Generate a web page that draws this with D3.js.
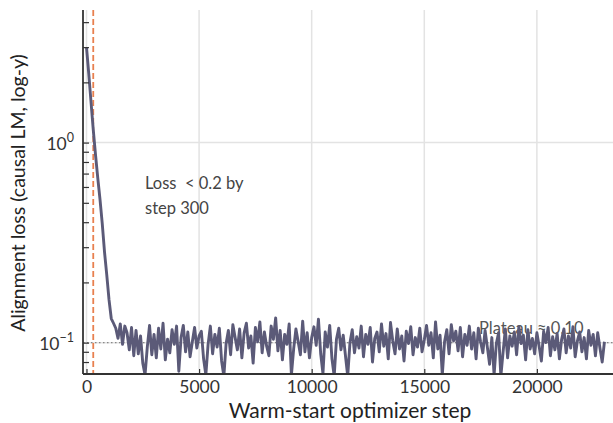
<!DOCTYPE html>
<html>
<head>
<meta charset="utf-8">
<script src="https://cdn.jsdelivr.net/npm/d3@7"></script>
<style>
  body { margin: 0; background: #fff; }
  text { font-family: Lato, "Open Sans", sans-serif; }
</style>
</head>
<body>
<div id="viz"></div>
<script>
const width = 613;
const height = 423;
const plot = {left: 83, right: 613, top: 10, bottom: 374};
const lineColor = '#5b5a78';
const markColor = '#e8804f';

// data, sampled every 100 optimizer steps starting at step 0
const stepInterval = 100;
const loss = [
  3.0, 2.21, 1.6, 1.16, 0.87, 0.667, 0.52, 0.393, 0.284, 0.218, 0.164, 0.132, 0.125,
  0.118, 0.105, 0.124, 0.098, 0.121, 0.112, 0.092, 0.119,
  0.086, 0.115, 0.088, 0.108, 0.079, 0.069, 0.095, 0.122, 0.087, 0.110,
  0.084, 0.118, 0.093, 0.125, 0.082, 0.104, 0.089, 0.116, 0.098, 0.121,
  0.072, 0.106, 0.122, 0.090, 0.113, 0.085, 0.101, 0.119, 0.094, 0.108,
  0.114, 0.083, 0.069, 0.098, 0.121, 0.088, 0.110, 0.095, 0.118, 0.081,
  0.068, 0.099, 0.115, 0.087, 0.123, 0.106, 0.092, 0.117, 0.084, 0.112,
  0.125, 0.094, 0.108, 0.079, 0.119, 0.101, 0.127, 0.089, 0.113, 0.096,
  0.086, 0.121, 0.104, 0.133, 0.091, 0.115, 0.082, 0.110, 0.098, 0.124,
  0.069, 0.093, 0.117, 0.101, 0.087, 0.128, 0.090, 0.112, 0.084, 0.106,
  0.120, 0.097, 0.131, 0.088, 0.070, 0.113, 0.095, 0.122, 0.083, 0.068,
  0.104, 0.118, 0.092, 0.109, 0.086, 0.068, 0.100, 0.116, 0.089, 0.107,
  0.094, 0.121, 0.085, 0.110, 0.098, 0.119, 0.080, 0.105, 0.113, 0.090,
  0.124, 0.096, 0.111, 0.083, 0.126, 0.102, 0.088, 0.117, 0.093, 0.108,
  0.081, 0.114, 0.099, 0.120, 0.087, 0.106, 0.095, 0.118, 0.090, 0.103,
  0.122, 0.097, 0.112, 0.084, 0.127, 0.093, 0.109, 0.069, 0.101, 0.116,
  0.088, 0.123, 0.102, 0.114, 0.091, 0.119, 0.085, 0.110, 0.097, 0.121,
  0.093, 0.112, 0.083, 0.118, 0.101, 0.089, 0.115, 0.095, 0.078, 0.106,
  0.069, 0.099, 0.112, 0.068, 0.090, 0.117, 0.084, 0.108, 0.096, 0.113,
  0.087, 0.120, 0.099, 0.109, 0.082, 0.116, 0.093, 0.105, 0.088, 0.112,
  0.096, 0.081, 0.114, 0.100, 0.119, 0.086, 0.107, 0.092, 0.111, 0.083,
  0.104, 0.117, 0.089, 0.108, 0.094, 0.120, 0.085, 0.102, 0.113, 0.090,
  0.106, 0.083, 0.115, 0.097, 0.110, 0.086, 0.112, 0.094, 0.080, 0.101
];
const xTicks = [0, 5000, 10000, 15000, 20000];
const yMajor = [0.1, 1];
const yMinor = [0.07, 0.08, 0.09, 0.2, 0.3, 0.4, 0.5, 0.6, 0.7, 0.8, 0.9, 2, 3, 4];
const thresholdStep = 300;
const plateau = 0.10;

const svg = d3.select('#viz')
  .append('svg')
    .attr('width', width)
    .attr('height', height);

const x = d3.scaleLinear()
  .domain([-155, 23380])
  .range([plot.left, plot.right]);

const y = d3.scaleLog()
  .domain([0.0697, 4.6])
  .range([plot.bottom, plot.top]);

// clip for the line
svg.append('clipPath').attr('id', 'clip')
  .append('rect')
    .attr('x', plot.left).attr('y', plot.top)
    .attr('width', plot.right - plot.left).attr('height', plot.bottom - plot.top);

// grid
svg.append('g')
  .selectAll('line')
  .data(xTicks)
  .join('line')
    .attr('x1', d => x(d)).attr('x2', d => x(d))
    .attr('y1', plot.top).attr('y2', plot.bottom)
    .attr('stroke', '#e3e3e3')
    .attr('stroke-width', 1.5);

svg.append('g')
  .selectAll('line')
  .data(yMajor)
  .join('line')
    .attr('x1', plot.left).attr('x2', plot.right)
    .attr('y1', d => y(d)).attr('y2', d => y(d))
    .attr('stroke', '#e3e3e3')
    .attr('stroke-width', 1.5);

// plateau reference line + label
svg.append('line')
  .attr('x1', plot.left).attr('x2', plot.right)
  .attr('y1', y(plateau)).attr('y2', y(plateau))
  .attr('stroke', '#888')
  .attr('stroke-width', 1.3)
  .attr('stroke-dasharray', '1.5,2.5');

svg.append('text')
  .attr('x', x(17430))
  .attr('y', y(plateau) - 9)
  .attr('font-size', 16.5)
  .attr('fill', '#555')
  .text('Plateau ≈ 0.10');

// annotation
const note = svg.append('text')
  .attr('font-size', 16.5)
  .attr('fill', '#444')
  .attr('xml:space', 'preserve');
note.append('tspan').attr('x', 145).attr('y', 189).text('Loss  < 0.2 by');
note.append('tspan').attr('x', 145).attr('y', 214).text('step 300');

// threshold marker
svg.append('line')
  .attr('x1', x(thresholdStep)).attr('x2', x(thresholdStep))
  .attr('y1', plot.top).attr('y2', plot.bottom)
  .attr('stroke', markColor)
  .attr('stroke-width', 1.8)
  .attr('stroke-dasharray', '6,3');

// loss curve
const line = d3.line()
  .x((d, i) => x(i * stepInterval))
  .y(d => y(d));

svg.append('path')
  .attr('clip-path', 'url(#clip)')
  .attr('d', line(loss))
  .attr('fill', 'none')
  .attr('stroke', lineColor)
  .attr('stroke-width', 2.9)
  .attr('stroke-linejoin', 'round');

// axes
const xAxis = svg.append('g')
  .attr('transform', `translate(0, ${plot.bottom})`)
  .call(d3.axisBottom(x).tickValues(xTicks).tickSize(-5).tickPadding(7).tickFormat(d3.format('d')));
xAxis.select('.domain').remove();
xAxis.selectAll('.tick line').attr('stroke', '#333').attr('stroke-width', 1.2);
xAxis.selectAll('.tick text').attr('font-size', 17.5).attr('fill', '#333').attr('font-family', 'Lato');

const yAxis = svg.append('g')
  .attr('transform', `translate(${plot.left}, 0)`)
  .call(d3.axisLeft(y).tickValues(yMajor.concat(yMinor)).tickSize(-6).tickFormat(''));
yAxis.select('.domain').remove();
yAxis.selectAll('.tick line').attr('stroke', '#333').attr('stroke-width', 1.2);

// major y labels with superscripts
const yLabels = svg.append('g')
  .selectAll('text')
  .data(yMajor)
  .join('text')
    .attr('x', plot.left - 9)
    .attr('y', d => y(d) + 7)
    .attr('text-anchor', 'end')
    .attr('font-size', 17.5)
    .attr('fill', '#333');
yLabels.append('tspan').text('10');
yLabels.append('tspan')
  .attr('dy', -8)
  .attr('font-size', 12.5)
  .text(d => d === 1 ? '0' : '\u22121');

// spines
svg.append('line')
  .attr('x1', plot.left).attr('x2', plot.left)
  .attr('y1', plot.top).attr('y2', plot.bottom)
  .attr('stroke', '#333').attr('stroke-width', 1.8);
svg.append('line')
  .attr('x1', plot.left).attr('x2', plot.right)
  .attr('y1', plot.bottom).attr('y2', plot.bottom)
  .attr('stroke', '#333').attr('stroke-width', 1.8);

// axis titles
svg.append('text')
  .attr('x', 350)
  .attr('y', 418)
  .attr('text-anchor', 'middle')
  .attr('font-size', 21)
  .attr('fill', '#222')
  .text('Warm-start optimizer step');

svg.append('text')
  .attr('transform', `translate(25, 193) rotate(-90)`)
  .attr('text-anchor', 'middle')
  .attr('font-size', 19.5)
  .attr('fill', '#222')
  .text('Alignment loss (causal LM, log-y)');
</script>
</body>
</html>
